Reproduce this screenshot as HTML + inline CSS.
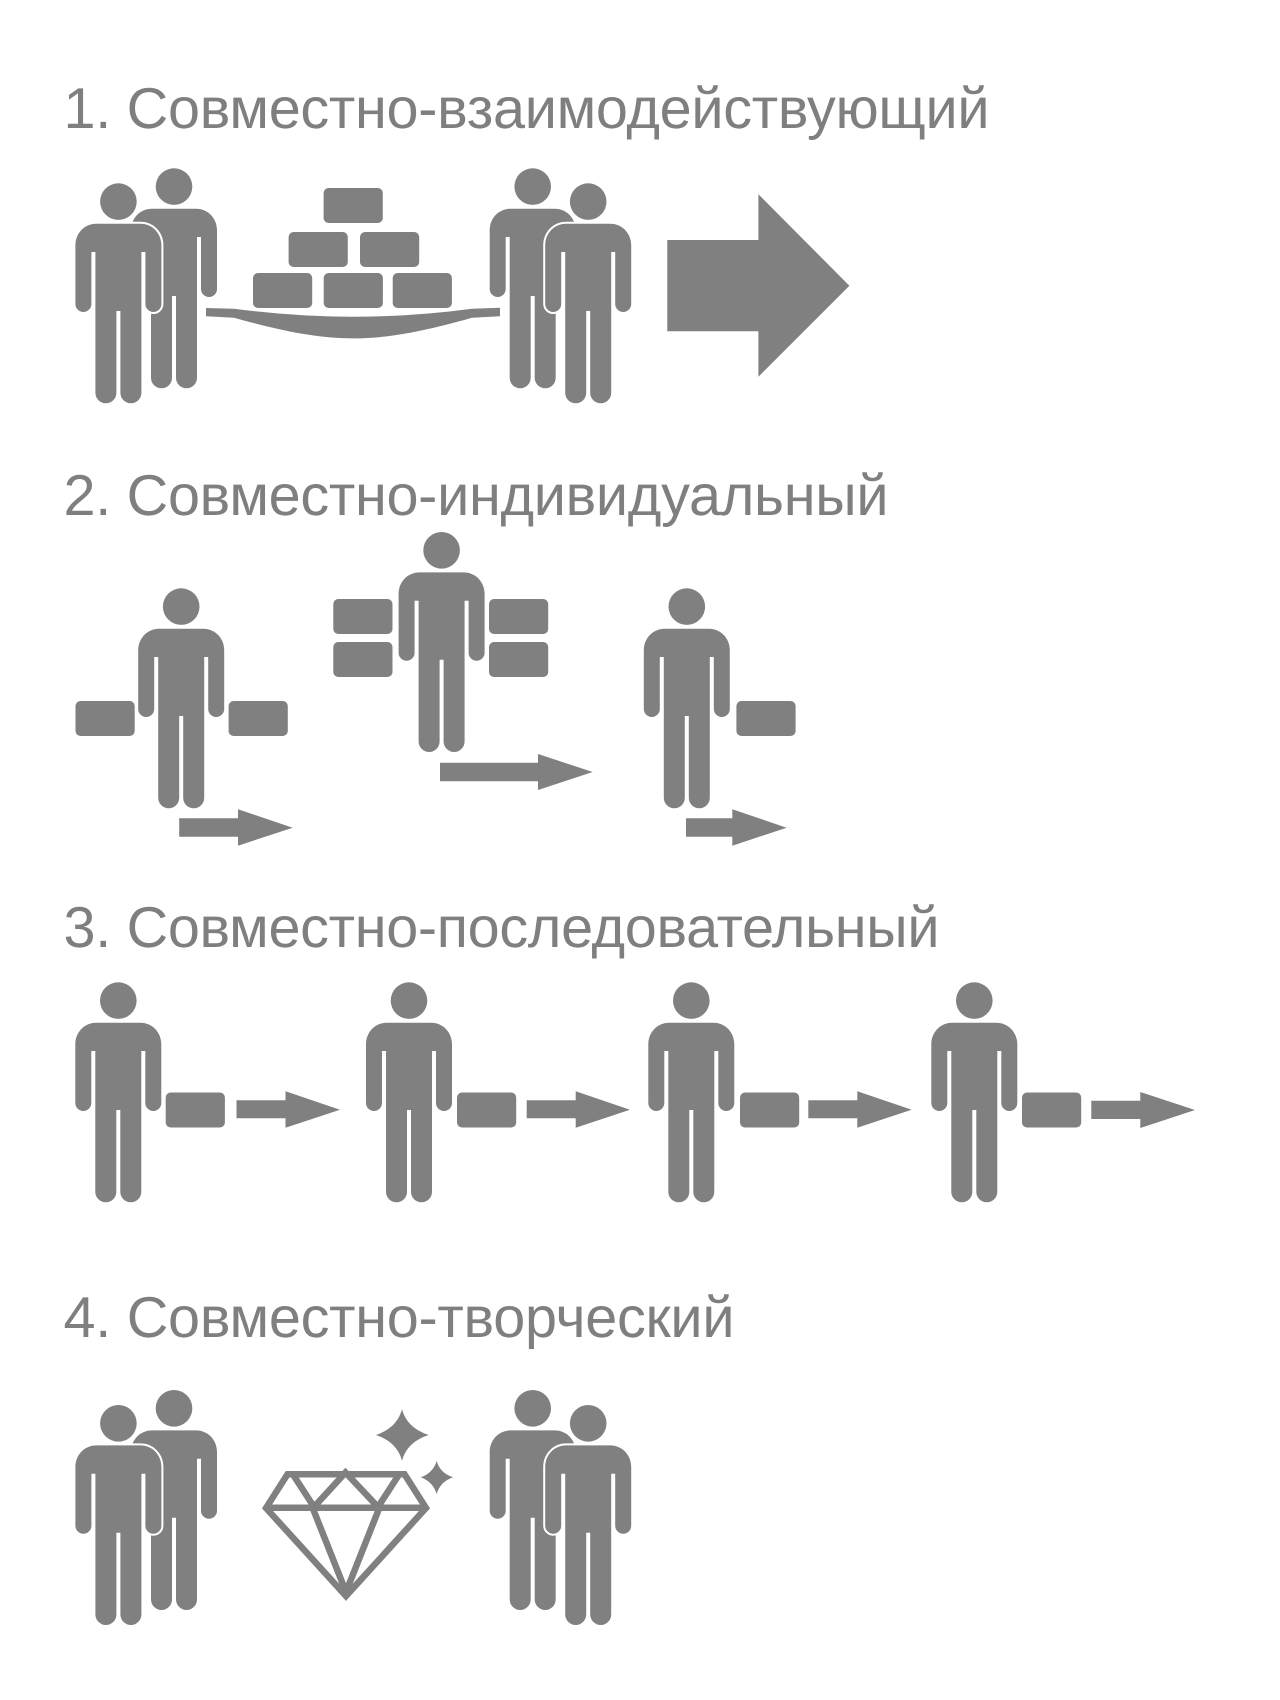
<!DOCTYPE html>
<html lang="ru">
<head>
<meta charset="utf-8">
<title>Совместная деятельность</title>
<style>
html,body{margin:0;padding:0;background:#fff;}
svg{display:block;}
text{font-family:"Liberation Sans","DejaVu Sans",sans-serif;font-size:57.6px;fill:#7f7f7f;text-rendering:geometricPrecision;}
</style>
</head>
<body>
<svg xmlns="http://www.w3.org/2000/svg" width="1280" height="1700" viewBox="0 0 1280 1700">
<defs>
  <path id="b" d="M-22 40.4H22C34 40.4 43 50 43 62V120.7A8 8 0 0 1 27 120.7V68.7H23V209.5A10.5 10.5 0 0 1 2 209.5V127.7H-2V209.5A10.5 10.5 0 0 1 -23 209.5V68.7H-27V120.7A8 8 0 0 1 -43 120.7V62C-43 50 -34 40.4 -22 40.4Z"/>
  <g id="p"><ellipse cx="0" cy="18.3" rx="18.3" ry="18.3"/><use href="#b"/></g>
  <g id="fr"><rect x="23" y="68" width="4.5" height="61" fill="#fff"/><ellipse cx="0" cy="18.3" rx="18.3" ry="18.3"/><use href="#b" stroke="#fff" stroke-width="4" style="paint-order:stroke"/></g>
  <g id="fl"><rect x="-27.5" y="68" width="4.5" height="61" fill="#fff"/><ellipse cx="0" cy="18.3" rx="18.3" ry="18.3"/><use href="#b" stroke="#fff" stroke-width="4" style="paint-order:stroke"/></g>
  <rect id="k" width="59.2" height="35" rx="5" ry="5"/>
</defs>

<text x="63.5" y="128" textLength="926" lengthAdjust="spacing">1. Совместно-взаимодействующий</text>
<text x="63.5" y="515" textLength="825" lengthAdjust="spacing">2. Совместно-индивидуальный</text>
<text x="63.5" y="947" textLength="876" lengthAdjust="spacing">3. Совместно-последовательный</text>
<text x="63.5" y="1337" textLength="671" lengthAdjust="spacing">4. Совместно-творческий</text>

<g fill="#808080">
  <!-- Section 1 -->
  <use href="#p" x="174" y="168.3"/>
  <use href="#fr" x="118.4" y="183.3"/>
  <use href="#k" x="323.6" y="188"/>
  <use href="#k" x="288.6" y="232"/>
  <use href="#k" x="360" y="232"/>
  <use href="#k" x="253" y="273"/>
  <use href="#k" x="323.7" y="273"/>
  <use href="#k" x="392.7" y="273"/>
  <path d="M206 308L234 308.7Q353 324.7 472 308.7L500 307.7V316.3L472 317.7C420 332.5 385 338.4 353 338.4C321 338.4 286 332.5 234 317.7L206 316.3Z"/>
  <use href="#p" x="532.7" y="168.3"/>
  <use href="#fl" x="588.2" y="183.3"/>
  <path d="M667.3 240H758.4V194.3L849.4 285.7L758.4 376.7V331.3H667.3Z"/>

  <!-- Section 2 -->
  <use href="#p" x="181.2" y="588.3"/>
  <use href="#k" x="75.5" y="701"/>
  <use href="#k" x="228.6" y="701"/>
  <path d="M179.2 818.3H238V809.3L292.7 827.7L238 845.7V836.7H179.2Z"/>
  <use href="#p" x="441.6" y="532"/>
  <use href="#k" x="333.3" y="599"/>
  <use href="#k" x="333.3" y="642"/>
  <use href="#k" x="489" y="599"/>
  <use href="#k" x="489" y="642"/>
  <path d="M440 762.7H538V754L592.7 772L538 790V781.3H440Z"/>
  <use href="#p" x="686.8" y="588.3"/>
  <use href="#k" x="736.4" y="701"/>
  <path d="M686 818.3H732.3V809.3L786.7 827.7L732.3 845.7V836.7H686Z"/>

  <!-- Section 3 -->
  <use href="#p" x="118.3" y="982.3"/>
  <use href="#k" x="165.7" y="1092.5"/>
  <path d="M236.5 1100.3H285.5V1091.3L340 1109.7L285.5 1127.7V1118.3H236.5Z"/>
  <use href="#p" x="409" y="982.3"/>
  <use href="#k" x="457" y="1092.5"/>
  <path d="M526.7 1100.3H575.7V1091.3L630 1109.7L575.7 1127.7V1118.3H526.7Z"/>
  <use href="#p" x="691.3" y="982.3"/>
  <use href="#k" x="740" y="1092.5"/>
  <path d="M808.3 1100.3H857.3V1091.3L911.7 1109.7L857.3 1127.7V1118.3H808.3Z"/>
  <use href="#p" x="974.3" y="982.3"/>
  <use href="#k" x="1022" y="1092.5"/>
  <path d="M1091.3 1100.7H1140.3V1092L1195 1110L1140.3 1128V1119H1091.3Z"/>

  <!-- Section 4 -->
  <use href="#p" x="174" y="1390"/>
  <use href="#fr" x="118.4" y="1405"/>
  <use href="#p" x="532.7" y="1390"/>
  <use href="#fl" x="588.2" y="1405"/>
  <path d="M402 1409.3Q407 1428 428.6 1435Q407 1442 402 1460.7Q397 1442 375.9 1435Q397 1428 402 1409.3Z"/>
  <path d="M436.7 1461Q440 1473 453 1477.3Q440 1482 436.7 1494Q433 1482 420.8 1477.3Q433 1473 436.7 1461Z"/>
</g>
<g fill="none" stroke="#808080" stroke-width="6.5" stroke-miterlimit="10">
  <path d="M287.5 1474.2H404.5L426 1508L346 1596L266 1508Z"/>
  <path d="M266 1507.7H426"/>
  <path d="M292 1473L314 1507L345.5 1472.5L378 1507L400 1473"/>
  <path d="M312.7 1508L346 1592L379.3 1508"/>
</g>
</svg>
</body>
</html>
